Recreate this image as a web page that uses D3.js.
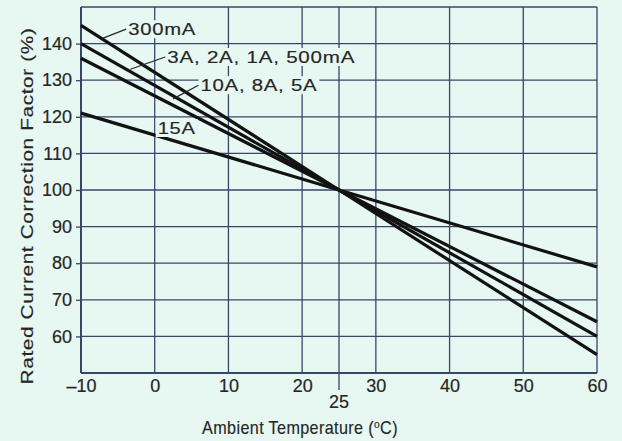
<!DOCTYPE html>
<html>
<head>
<meta charset="utf-8">
<script src="https://cdn.jsdelivr.net/npm/d3@7"></script>
<style>
  body { margin: 0; background: #e7f7f2; }
  svg { display: block; }
</style>
</head>
<body>
<div id="chart"></div>
<script>
// data
const temps    = [-10, 25, 60]
const xTicks   = [-10, 0, 10, 20, 30, 40, 50, 60]
const yTicks   = [60, 70, 80, 90, 100, 110, 120, 130, 140]
const yGrid    = [50, 60, 70, 80, 90, 100, 110, 120, 130, 140, 150]
const xGrid    = [-10, 0, 10, 20, 25, 30, 40, 50, 60]
const curve300mA = [145, 100, 55]
const curve3A    = [140, 100, 60]
const curve10A   = [136, 100, 64]
const curve15A   = [121, 100, 79]
const seriesNames = ['300mA', '3A, 2A, 1A, 500mA', '10A, 8A, 5A', '15A']
// label anchors in data units: [temp, value, leader from temp, leader from value]
const labelAt = [[-3.6, 142.3, -7.0, 141.5], [1.7, 134.7, -3.3, 133.0], [6.2, 127.0, 2.5, 124.9], [0.4, 115.3, null, null]]
const labelWidth = [68, 188, 117, 38]

const width = 622, height = 441
const margin = { left: 81, right: 25, top: 7, bottom: 68 }
const bg = '#e7f7f2', gridColor = '#38466a', ink = '#262626'
const font = '"Liberation Sans", Arial, sans-serif'

const svg = d3.select('#chart').append('svg')
  .attr('width', width).attr('height', height)
  .attr('font-family', font)

svg.append('rect').attr('width', width).attr('height', height).attr('fill', bg)

const x = d3.scaleLinear().domain([-10, 60]).range([margin.left, width - margin.right])
const y = d3.scaleLinear().domain([50, 150]).range([height - margin.bottom, margin.top])

// squeeze/stretch a text so it takes the given width (the original face is an extended grotesque)
const stretchTo = (sel, w) => {
  const natural = sel.node().getComputedTextLength()
  const tf = sel.attr('transform') || ''
  sel.attr('transform', `${tf} scale(${w / natural},1)`)
}

// grid
svg.append('g').selectAll('line').data(yGrid).join('line')
  .attr('x1', x(-10)).attr('x2', x(60))
  .attr('y1', d => y(d)).attr('y2', d => y(d))
  .attr('stroke', gridColor).attr('stroke-width', d => d === 50 ? 2 : 1.3)
svg.append('g').selectAll('line').data(xGrid).join('line')
  .attr('x1', d => x(d)).attr('x2', d => x(d))
  .attr('y1', y(150)).attr('y2', y(50))
  .attr('stroke', gridColor).attr('stroke-width', d => d === -10 ? 2 : 1.3)

// y axis
const yAxis = d3.axisLeft(y).tickValues(yTicks).tickSize(5).tickPadding(4)
svg.append('g')
  .attr('transform', `translate(${x(-10)},0)`)
  .call(yAxis)
  .attr('font-family', font).attr('font-size', 18)
  .call(g => g.select('.domain').remove())
  .call(g => g.selectAll('line').attr('stroke', gridColor).attr('stroke-width', 1.3))
  .call(g => g.selectAll('text').attr('fill', ink).attr('stroke', ink).attr('stroke-width', 0.2))

// x axis
const xAxis = d3.axisBottom(x).tickValues(xTicks).tickSize(0).tickPadding(6)
  .tickFormat(d => d < 0 ? '\u2013' + Math.abs(d) : d)
svg.append('g')
  .attr('transform', `translate(0,${y(50)})`)
  .call(xAxis)
  .attr('font-family', font).attr('font-size', 18)
  .call(g => g.select('.domain').remove())
  .call(g => g.selectAll('text').attr('fill', ink).attr('stroke', ink).attr('stroke-width', 0.2))

// the 25 degree marker
svg.append('line')
  .attr('x1', x(25)).attr('x2', x(25))
  .attr('y1', y(50)).attr('y2', y(50) + 17)
  .attr('stroke', gridColor).attr('stroke-width', 1.3)
svg.append('text')
  .attr('x', x(25)).attr('y', y(50) + 35)
  .attr('text-anchor', 'middle').attr('font-size', 18)
  .attr('fill', ink).attr('stroke', ink).attr('stroke-width', 0.2)
  .text('25')

// curves
const series = [curve300mA, curve3A, curve10A, curve15A]
const line = d3.line().x((d, i) => x(temps[i])).y(d => y(d))
svg.append('g').selectAll('path').data(series).join('path')
  .attr('d', line)
  .attr('fill', 'none')
  .attr('stroke', '#121212')
  .attr('stroke-width', 3.2)

// labels with knockout background and leader lines
const labels = svg.append('g')
seriesNames.forEach((name, i) => {
  const [lt, lv, ft, fv] = labelAt[i]
  const tx = x(lt), ty = y(lv)
  labels.append('rect')
    .attr('x', tx - 2).attr('y', ty - 15)
    .attr('width', labelWidth[i] + 4).attr('height', 18)
    .attr('fill', bg)
  const t = labels.append('text')
    .attr('transform', `translate(${tx},${ty})`)
    .attr('font-size', 16.5)
    .attr('fill', ink).attr('stroke', ink).attr('stroke-width', 0.15)
    .attr('letter-spacing', 0.6)
    .text(name)
  stretchTo(t, labelWidth[i])
  if (ft !== null) {
    labels.append('line')
      .attr('x1', x(ft)).attr('y1', y(fv))
      .attr('x2', tx - 2).attr('y2', ty - 6)
      .attr('stroke', ink).attr('stroke-width', 1.2)
  }
})

// axis titles
const yt = svg.append('text')
  .attr('transform', `translate(33,206) rotate(-90)`)
  .attr('text-anchor', 'middle')
  .attr('font-size', 17).attr('fill', ink).attr('stroke', ink).attr('stroke-width', 0.15)
  .attr('letter-spacing', 0.5)
  .text('Rated Current Correction Factor (%)')
stretchTo(yt, 357)

const xt = svg.append('text')
  .attr('transform', 'translate(300,434)')
  .attr('text-anchor', 'middle')
  .attr('font-size', 17.5).attr('fill', ink).attr('stroke', ink).attr('stroke-width', 0.15)
  .attr('letter-spacing', 0.4)
xt.append('tspan').text('Ambient Temperature (')
xt.append('tspan').attr('font-size', 11).attr('dy', -6).text('o')
xt.append('tspan').attr('dy', 6).text('C)')
stretchTo(xt, 196)
</script>
</body>
</html>
